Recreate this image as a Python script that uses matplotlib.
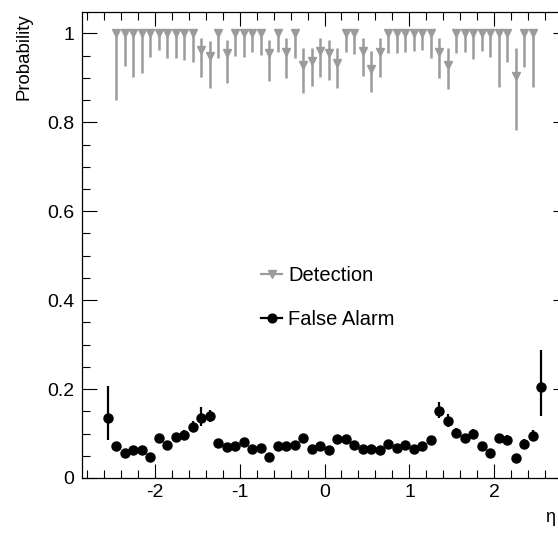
import numpy as np
import matplotlib
matplotlib.use("Agg")
import matplotlib.pyplot as plt
from matplotlib.ticker import MultipleLocator
from matplotlib.lines import Line2D

plt.rcParams['font.family'] = ['Liberation Sans', 'DejaVu Sans']

# ---- data ----
fa_x = [-2.55, -2.45, -2.35, -2.25, -2.15, -2.05, -1.95, -1.85, -1.75, -1.65,
        -1.55, -1.45, -1.35, -1.25, -1.15, -1.05, -0.95, -0.85, -0.75, -0.65,
        -0.55, -0.45, -0.35, -0.25, -0.15, -0.05, 0.05, 0.15, 0.25, 0.35,
        0.45, 0.55, 0.65, 0.75, 0.85, 0.95, 1.05, 1.15, 1.25, 1.35,
        1.45, 1.55, 1.65, 1.75, 1.85, 1.95, 2.05, 2.15, 2.25, 2.35,
        2.45, 2.55]
fa_y = [0.136, 0.071, 0.056, 0.063, 0.063, 0.048, 0.089, 0.074, 0.092, 0.097,
        0.115, 0.136, 0.139, 0.078, 0.069, 0.071, 0.080, 0.065, 0.067, 0.047,
        0.072, 0.072, 0.074, 0.091, 0.065, 0.072, 0.063, 0.088, 0.088, 0.074,
        0.065, 0.065, 0.063, 0.077, 0.067, 0.074, 0.065, 0.072, 0.086, 0.151,
        0.129, 0.101, 0.089, 0.099, 0.072, 0.057, 0.089, 0.086, 0.044, 0.077,
        0.095, 0.205]
fa_err_lo = [0.051, 0.008, 0.007, 0.007, 0.007, 0.007, 0.009, 0.008, 0.009, 0.009,
             0.012, 0.018, 0.013, 0.008, 0.007, 0.007, 0.008, 0.007, 0.007, 0.006,
             0.007, 0.007, 0.007, 0.008, 0.007, 0.007, 0.007, 0.008, 0.008, 0.007,
             0.007, 0.007, 0.007, 0.007, 0.007, 0.007, 0.007, 0.007, 0.008, 0.017,
             0.014, 0.010, 0.009, 0.010, 0.008, 0.007, 0.009, 0.009, 0.007, 0.009,
             0.012, 0.066]
fa_err_hi = [0.071, 0.009, 0.008, 0.008, 0.008, 0.008, 0.010, 0.009, 0.010, 0.010,
             0.014, 0.024, 0.015, 0.009, 0.008, 0.008, 0.009, 0.008, 0.008, 0.007,
             0.008, 0.008, 0.008, 0.009, 0.008, 0.008, 0.008, 0.009, 0.009, 0.008,
             0.008, 0.008, 0.008, 0.008, 0.008, 0.008, 0.008, 0.008, 0.009, 0.020,
             0.016, 0.012, 0.010, 0.011, 0.009, 0.008, 0.010, 0.010, 0.008, 0.010,
             0.014, 0.083]

det_x = [-2.45, -2.35, -2.25, -2.15, -2.05, -1.95, -1.85, -1.75, -1.65, -1.55,
         -1.45, -1.35, -1.25, -1.15, -1.05, -0.95, -0.85, -0.75, -0.65, -0.55,
         -0.45, -0.35, -0.25, -0.15, -0.05, 0.05, 0.15, 0.25, 0.35, 0.45,
         0.55, 0.65, 0.75, 0.85, 0.95, 1.05, 1.15, 1.25, 1.35, 1.45,
         1.55, 1.65, 1.75, 1.85, 1.95, 2.05, 2.15, 2.25, 2.35, 2.45]
det_y = [1.0, 1.0, 1.0, 1.0, 1.0, 1.0, 1.0, 1.0, 1.0, 1.0,
         0.962, 0.948, 1.0, 0.955, 1.0, 1.0, 1.0, 1.0, 0.956, 1.0,
         0.958, 1.0, 0.928, 0.937, 0.960, 0.956, 0.933, 1.0, 1.0, 0.961,
         0.920, 0.958, 1.0, 1.0, 1.0, 1.0, 1.0, 1.0, 0.958, 0.929,
         1.0, 1.0, 1.0, 1.0, 1.0, 1.0, 1.0, 0.903, 1.0, 1.0]
det_lo_end = [0.851, 0.926, 0.901, 0.910, 0.947, 0.962, 0.944, 0.944, 0.941, 0.936,
              0.902, 0.878, 0.945, 0.889, 0.950, 0.946, 0.959, 0.951, 0.893, 0.959,
              0.899, 0.944, 0.866, 0.881, 0.902, 0.895, 0.878, 0.957, 0.953, 0.905,
              0.869, 0.902, 0.956, 0.956, 0.959, 0.961, 0.962, 0.944, 0.899, 0.874,
              0.955, 0.957, 0.942, 0.961, 0.947, 0.880, 0.935, 0.783, 0.925, 0.880]
det_hi_end = [1.0, 1.0, 1.0, 1.0, 1.0, 1.0, 1.0, 1.0, 1.0, 1.0,
              0.989, 0.983, 1.0, 0.985, 1.0, 1.0, 1.0, 1.0, 0.986, 1.0,
              0.989, 1.0, 0.968, 0.968, 0.989, 0.985, 0.968, 1.0, 1.0, 0.990,
              0.960, 0.989, 1.0, 1.0, 1.0, 1.0, 1.0, 1.0, 0.989, 0.968,
              1.0, 1.0, 1.0, 1.0, 1.0, 1.0, 1.0, 0.966, 1.0, 1.0]

x_ticks = [-2, -1, 0, 1, 2]
y_ticks = [0, 0.2, 0.4, 0.6, 0.8, 1]
y_tick_labels = ['0', '0.2', '0.4', '0.6', '0.8', '1']
series_names = ['Detection', 'False Alarm']

# ---- figure ----
W, H = 558, 540
fig = plt.figure(figsize=(W / 100, H / 100), dpi=100)
ax = fig.add_axes([81.5 / W, (H - 478) / H, 486 / W, 466 / H])

gray = '#9b9b9b'
det_y_a = np.array(det_y)
det_err = [det_y_a - np.array(det_lo_end), np.array(det_hi_end) - det_y_a]
ax.errorbar(det_x, det_y, yerr=det_err, fmt='v', color=gray, ms=6.4,
            mec=gray, mfc=gray, elinewidth=1.8, capsize=0, zorder=3)
ax.errorbar(fa_x, fa_y, yerr=[fa_err_lo, fa_err_hi], fmt='o', color='black',
            ms=6.5, elinewidth=1.6, capsize=0, zorder=4)

ax.set_xlim(-2.859, 2.859)
ax.set_ylim(0, 1.048)
ax.set_xticks(x_ticks)
ax.set_xticklabels([str(t) for t in x_ticks])
ax.set_yticks(y_ticks)
ax.set_yticklabels(y_tick_labels)
ax.xaxis.set_minor_locator(MultipleLocator(0.2))
ax.yaxis.set_minor_locator(MultipleLocator(0.05))
ax.tick_params(which='both', direction='in', top=True, right=True,
               labelsize=14, width=0.8, colors='black')
ax.tick_params(axis='x', which='major', length=10, pad=4)
ax.tick_params(axis='y', which='major', length=10.8, pad=5)
ax.tick_params(which='minor', length=5.5)
for s in ax.spines.values():
    s.set_linewidth(0.9)

fig.text(23.5 / W, 1 - 13 / H, 'Probability', rotation=90, ha='center',
         va='top', fontsize=13.4)
fig.text(545 / W, 1 - 517 / H, 'η', ha='left', va='center', fontsize=13)

handles = [
    Line2D([], [], color=gray, marker='v', ms=6.0, lw=1.6, mec=gray, mfc=gray),
    Line2D([], [], color='black', marker='o', ms=6.3, lw=1.6),
]
leg = ax.legend(handles, series_names, loc='upper left',
                bbox_to_anchor=(261 / W, 1 - 266 / H),
                bbox_transform=fig.transFigure, frameon=False, fontsize=14.5,
                handlelength=1.05, handletextpad=0.3, labelspacing=1.25,
                borderaxespad=0, borderpad=0)

fig.savefig('out.png', dpi=100)
